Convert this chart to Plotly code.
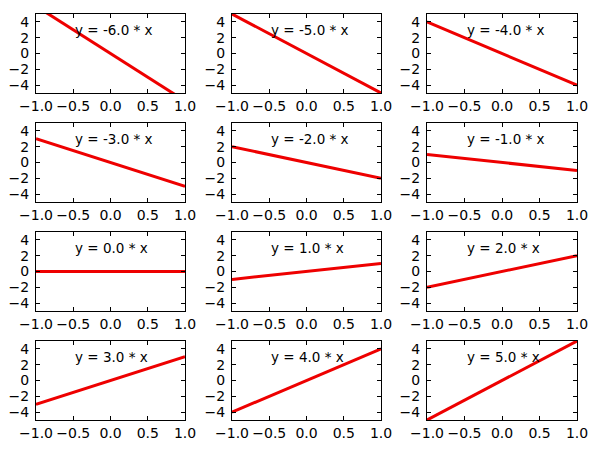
import plotly.graph_objects as go

# Data
slopes = [-6.0, -5.0, -4.0, -3.0, -2.0, -1.0, 0.0, 1.0, 2.0, 3.0, 4.0, 5.0]
x_vals = [-1.0, 1.0]
y_left = [6.0, 5.0, 4.0, 3.0, 2.0, 1.0, 0.0, -1.0, -2.0, -3.0, -4.0, -5.0]
y_right = [-6.0, -5.0, -4.0, -3.0, -2.0, -1.0, 0.0, 1.0, 2.0, 3.0, 4.0, 5.0]
x_ticks = [-1.0, -0.5, 0.0, 0.5, 1.0]
x_ticktext = ["\u22121.0", "\u22120.5", "0.0", "0.5", "1.0"]
y_ticks = [-4, -2, 0, 2, 4]
y_ticktext = ["\u22124", "\u22122", "0", "2", "4"]
labels = ["y = %.1f * x" % k for k in slopes]

W, H = 600, 450
cols_px = [(36, 185), (232, 381), (427, 577)]
rows_px = [(14, 93), (123, 202), (232, 311), (341, 420)]

fig = go.Figure()
layout = dict(
    width=W, height=H,
    margin=dict(l=0, r=0, t=0, b=0, autoexpand=False),
    paper_bgcolor="white", plot_bgcolor="white",
    showlegend=False,
    font=dict(family="DejaVu Sans", size=13, color="black"),
    annotations=[],
)

for i, k in enumerate(slopes):
    r, c = divmod(i, 3)
    n = "" if i == 0 else str(i + 1)
    fig.add_trace(go.Scatter(
        x=x_vals, y=[y_left[i], y_right[i]], mode="lines",
        line=dict(color="#ee0000", width=3),
        xaxis="x" + n, yaxis="y" + n, hoverinfo="skip",
    ))
    x0, x1 = cols_px[c]
    y0, y1 = rows_px[r]
    common = dict(
        showline=True, linecolor="black", linewidth=1, mirror="allticks",
        ticks="inside", ticklen=4, tickcolor="black", tickwidth=1,
        showgrid=False, zeroline=False, fixedrange=True, automargin=False,
        tickfont=dict(family="DejaVu Sans", size=14, color="black"),
        tickmode="array",
    )
    layout["xaxis" + n] = dict(
        domain=[x0 / W, x1 / W], range=[-1, 1], anchor="y" + n,
        tickvals=x_ticks, ticktext=x_ticktext, ticklabelstandoff=0, **common)
    layout["yaxis" + n] = dict(
        domain=[1 - y1 / H, 1 - y0 / H], range=[-5, 5], anchor="x" + n,
        tickvals=y_ticks, ticktext=y_ticktext, ticklabelstandoff=3, **common)
    layout["annotations"].append(dict(
        text=labels[i], x=-0.5, y=3.0, xref="x" + n, yref="y" + n,
        xanchor="left", yanchor="middle", showarrow=False,
        font=dict(family="DejaVu Sans", size=13.5, color="black"),
    ))

fig.update_layout(**layout)
fig.write_html("out.html")
